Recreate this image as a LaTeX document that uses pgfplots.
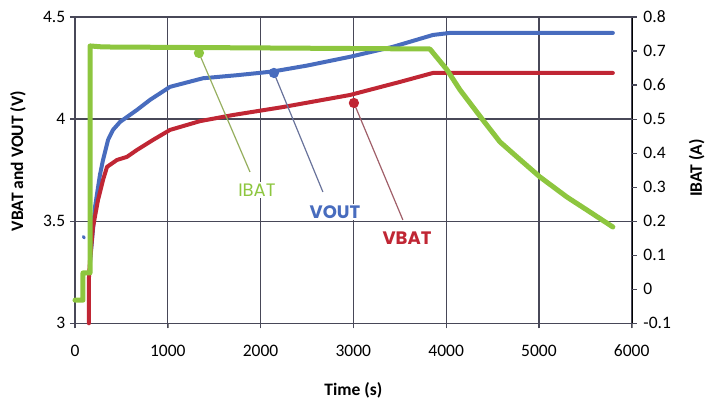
\documentclass[border=0pt]{standalone}
\usepackage{pgfplots}
\pgfplotsset{compat=1.18}
\usepackage{fontspec}
\setmainfont{Carlito}
\newfontfamily\calloutfont{Poppins}
\definecolor{ibat}{RGB}{141,198,63}
\definecolor{vout}{RGB}{72,108,190}
\definecolor{vbat}{RGB}{192,38,52}
\definecolor{axcol}{RGB}{72,72,88}
\definecolor{ibatline}{RGB}{150,175,95}
\definecolor{voutline}{RGB}{105,115,155}
\definecolor{vbatline}{RGB}{160,95,105}

\pgfplotsset{
  common/.style={
    scale only axis, width=556.7bp, height=306.3bp,
    xmin=0, xmax=6000, clip=false,
    tick align=outside,
    tick label style={font=\fontsize{17.5bp}{20bp}\selectfont},
    label style={font=\bfseries\fontsize{17.5bp}{20bp}\selectfont},
    /pgf/number format/assume math mode=true,
    /pgf/number format/1000 sep={},
    scaled ticks=false,
  },
}

\begin{document}
\begin{tikzpicture}
\begin{axis}[common,
  ymin=3, ymax=4.5,
  xtick={0,1000,2000,3000,4000,5000,6000},
  ytick={3,3.5,4,4.5},
  yticklabels={3,3.5,4,4.5},
  xtick pos=bottom, ytick pos=left,
  xticklabel style={yshift=-14bp},
  yticklabel style={xshift=-2bp},
  xlabel={Time (s)},
  xlabel style={at={(rel axis cs:0.5,0)}, anchor=center, yshift=-66.7bp},
  ylabel={VBAT and VOUT (V)},
  ylabel style={at={(rel axis cs:0,0.53)}, anchor=center, yshift=57bp},
]
% grid lines, frame and outward ticks
\addplot[axcol, line width=1.2bp] coordinates {(0,2.9755) (0,4.5)};
\addplot[axcol, line width=1.2bp] coordinates {(1000,2.9755) (1000,4.5)};
\addplot[axcol, line width=1.2bp] coordinates {(2000,2.9755) (2000,4.5)};
\addplot[axcol, line width=1.2bp] coordinates {(3000,2.9755) (3000,4.5)};
\addplot[axcol, line width=1.2bp] coordinates {(4000,2.9755) (4000,4.5)};
\addplot[axcol, line width=1.2bp] coordinates {(5000,2.9755) (5000,4.5)};
\addplot[axcol, line width=1.2bp] coordinates {(6000,2.9755) (6000,4.5)};
\addplot[axcol, line width=1.2bp] coordinates {(-54,3) (6000,3)};
\addplot[axcol, line width=1.2bp] coordinates {(-54,3.5) (6000,3.5)};
\addplot[axcol, line width=1.2bp] coordinates {(-54,4) (6000,4)};
\addplot[axcol, line width=1.2bp] coordinates {(-54,4.5) (6000,4.5)};
% data
\addplot[vout, line width=4bp, line join=round, line cap=round] coordinates {
(162,3.30) (216,3.57) (269,3.727) (302,3.80) (356,3.898) (409,3.947)
(485,3.986) (668,4.045) (808,4.094) (1024,4.158) (1379,4.200) (1746,4.215)
(2026,4.228) (2144,4.234) (2500,4.262) (2963,4.305) (3427,4.354)
(3858,4.412) (4041,4.422) (5797,4.422)};
\addplot[vout, line width=3bp, line cap=round] coordinates {(90,3.425) (100,3.418)};
\addplot[vbat, line width=4bp, line join=round, line cap=round] coordinates {
(150,3.0) (150,3.22) (162,3.31) (194,3.47) (248,3.604) (302,3.702)
(345,3.766) (453,3.80) (560,3.815) (668,3.849) (841,3.898) (1024,3.947)
(1347,3.99) (1703,4.02) (2241,4.059) (2963,4.118) (3502,4.182)
(3858,4.226) (5797,4.226)};
% callouts
\addplot[ibatline, line width=1.2bp, mark=*, mark indices={1},
  mark options={ibat, fill=ibat, draw=ibat}, mark size=4.5bp] coordinates {(1336,4.324) (1886,3.741)};
\addplot[voutline, line width=1.2bp, mark=*, mark indices={1},
  mark options={vout, fill=vout, draw=vout}, mark size=4.5bp] coordinates {(2144,4.226) (2672,3.643)};
\addplot[vbatline, line width=1.2bp, mark=*, mark indices={1},
  mark options={vbat, fill=vbat, draw=vbat}, mark size=4.5bp] coordinates {(3006,4.079) (3534,3.506)};
\node[fill=white, inner sep=2bp, text=ibat, font=\calloutfont\fontsize{18bp}{20bp}\selectfont] at (axis cs:1961,3.653) {IBAT};
\node[fill=white, inner sep=2bp, text=vout, font=\calloutfont\bfseries\fontsize{18bp}{20bp}\selectfont] at (axis cs:2802,3.545) {VOUT};
\node[fill=white, inner sep=2bp, text=vbat, font=\calloutfont\bfseries\fontsize{18bp}{20bp}\selectfont] at (axis cs:3578,3.418) {VBAT};
\end{axis}
\begin{axis}[common,
  ymin=-0.1, ymax=0.8,
  axis x line=none,
  axis y line*=right,
  ytick={-0.1,0,0.1,0.2,0.3,0.4,0.5,0.6,0.7,0.8},
  yticklabels={-0.1,0,0.1,0.2,0.3,0.4,0.5,0.6,0.7,0.8},
  yticklabel style={xshift=4bp},
  ylabel={IBAT (A)},
  ylabel style={at={(rel axis cs:1,0.507)}, anchor=center, yshift=-65bp},
]
\addplot[axcol, line width=1.2bp] coordinates {(6000,-0.1) (6054,-0.1)};
\addplot[axcol, line width=1.2bp] coordinates {(6000,0) (6054,0)};
\addplot[axcol, line width=1.2bp] coordinates {(6000,0.1) (6054,0.1)};
\addplot[axcol, line width=1.2bp] coordinates {(6000,0.2) (6054,0.2)};
\addplot[axcol, line width=1.2bp] coordinates {(6000,0.3) (6054,0.3)};
\addplot[axcol, line width=1.2bp] coordinates {(6000,0.4) (6054,0.4)};
\addplot[axcol, line width=1.2bp] coordinates {(6000,0.5) (6054,0.5)};
\addplot[axcol, line width=1.2bp] coordinates {(6000,0.6) (6054,0.6)};
\addplot[axcol, line width=1.2bp] coordinates {(6000,0.7) (6054,0.7)};
\addplot[axcol, line width=1.2bp] coordinates {(6000,0.8) (6054,0.8)};
\addplot[ibat, line width=5bp, line join=round, line cap=round] coordinates {
(0,-0.032) (86,-0.032) (86,0.048) (162,0.048) (162,0.715) (300,0.712)
(3825,0.706) (4009,0.645) (4149,0.586) (4397,0.497) (4580,0.433)
(4763,0.389) (5011,0.330) (5302,0.271) (5517,0.233) (5797,0.183)};
\end{axis}
\pgfresetboundingbox
\path[use as bounding box] (-75bp,-77.7bp) rectangle (632bp,323.3bp);
\end{tikzpicture}
\end{document}
